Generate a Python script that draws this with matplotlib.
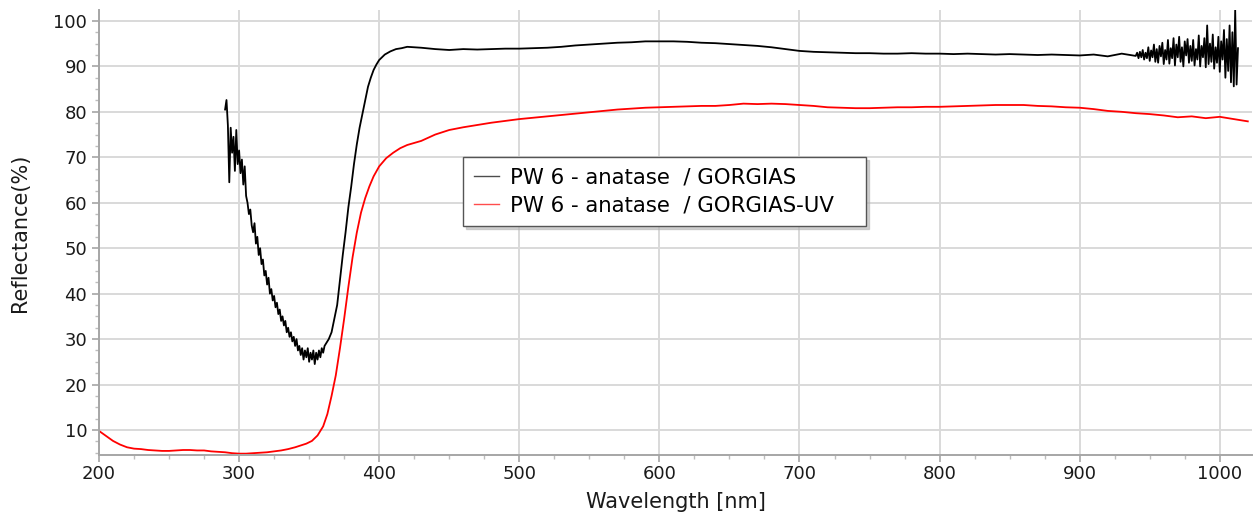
import numpy as np
import matplotlib
matplotlib.use("Agg")
from matplotlib import pyplot as plt
from matplotlib.ticker import MultipleLocator

# black curve (GORGIAS)
black_wl_a = np.arange(290, 362)
black_a = [80.5, 82.6, 77.0, 64.5, 76.5, 71.0, 74.5, 67.0, 76.0, 68.5,
           71.5, 66.5, 69.5, 64.0, 68.0, 61.5, 60.0, 57.5, 58.5, 55.0,
           53.5, 55.5, 51.0, 52.5, 48.5, 50.0, 46.5, 47.5, 44.0, 45.0,
           42.0, 43.5, 40.0, 41.0, 38.5, 39.5, 37.0, 38.0, 35.5, 36.5,
           34.0, 35.0, 33.0, 34.0, 31.5, 32.5, 30.5, 31.5, 29.5, 30.5,
           28.5, 30.0, 27.5, 28.5, 26.5, 28.0, 25.5, 27.5, 26.0, 28.0,
           25.0, 27.0, 25.5, 27.5, 24.5, 27.0, 25.5, 27.5, 26.0, 28.0,
           27.0, 28.5]
black_wl_b = [364, 366, 368, 370, 372, 374, 376, 378, 380, 382, 384, 386,
              388, 390, 392, 394, 396, 398, 400, 404, 408, 412, 416, 420]
black_b = [30.0, 31.5, 34.5, 37.5, 43.0, 48.5, 53.5, 59.0, 63.5, 68.5, 72.8, 76.5,
           79.5, 82.5, 85.5, 87.5, 89.2, 90.4, 91.4, 92.6, 93.3, 93.8, 94.0, 94.3]
black_wl_c = np.arange(430, 950, 10)
black_c = [94.1, 93.8, 93.6, 93.8, 93.7, 93.8, 93.9, 93.9, 94.0, 94.1,
           94.3, 94.6, 94.8, 95.0, 95.2, 95.3, 95.5, 95.5, 95.5, 95.4,
           95.2, 95.1, 94.9, 94.7, 94.5, 94.2, 93.8, 93.4, 93.2, 93.1,
           93.0, 92.9, 92.9, 92.8, 92.8, 92.9, 92.8, 92.8, 92.7, 92.8,
           92.7, 92.6, 92.7, 92.6, 92.5, 92.6, 92.5, 92.4, 92.6, 92.2,
           92.8, 92.3]
black_wl_d = np.arange(941, 1014)
black_d = [93.0, 91.8, 93.2, 92.0, 93.6, 91.5, 93.0, 91.8, 94.2, 91.2,
           93.5, 92.0, 94.8, 91.0, 93.8, 90.8, 94.5, 92.2, 95.2, 90.5,
           93.6, 91.5, 95.8, 90.6, 94.0, 91.8, 96.2, 90.2, 94.8, 92.0,
           96.5, 91.0, 94.2, 90.0, 95.5, 92.4, 96.0, 90.8, 94.5, 91.2,
           95.8, 90.2, 93.8, 91.5, 96.8, 90.0, 94.5, 92.0, 96.2, 89.8,
           99.0, 90.5, 95.0, 91.0, 97.0, 89.5, 94.2, 90.8, 96.5, 88.8,
           95.5, 91.5, 98.0, 87.5, 96.0, 89.0, 99.0, 86.5, 97.5, 85.6,
           102.4, 86.0, 94.0]

# red curve (GORGIAS-UV)
red_wl_a = np.arange(200, 345, 5)
red_a = [9.8, 8.7, 7.6, 6.8, 6.2, 5.9, 5.8, 5.6, 5.5, 5.4,
         5.4, 5.5, 5.6, 5.6, 5.5, 5.5, 5.3, 5.2, 5.1, 4.9,
         4.8, 4.8, 4.9, 5.0, 5.1, 5.3, 5.5, 5.8, 6.2]
red_wl_b = [344, 348, 352, 356, 360, 363, 366, 369, 372, 375, 378,
            381, 384, 387, 390, 393, 396, 400, 405, 410, 415, 420]
red_b = [6.6, 7.0, 7.6, 8.8, 10.8, 13.5, 17.5, 22.0, 28.0, 34.5, 41.5,
         48.0, 53.4, 57.8, 61.0, 63.6, 65.8, 68.0, 69.8, 71.0, 72.0, 72.7]
red_wl_c = np.arange(430, 1030, 10)
red_c = [73.6, 75.0, 76.0, 76.6, 77.1, 77.6, 78.0, 78.4, 78.7, 79.0,
         79.3, 79.6, 79.9, 80.2, 80.5, 80.7, 80.9, 81.0, 81.1, 81.2,
         81.3, 81.3, 81.5, 81.8, 81.7, 81.8, 81.7, 81.5, 81.3, 81.0,
         80.9, 80.8, 80.8, 80.9, 81.0, 81.0, 81.1, 81.1, 81.2, 81.3,
         81.4, 81.5, 81.5, 81.5, 81.3, 81.2, 81.0, 80.9, 80.6, 80.2,
         80.0, 79.7, 79.5, 79.2, 78.8, 79.0, 78.6, 78.9, 78.4, 77.9]

black_wl = np.concatenate([black_wl_a, black_wl_b, black_wl_c, black_wl_d])
black_r = np.concatenate([black_a, black_b, black_c, black_d])
red_wl = np.concatenate([red_wl_a, red_wl_b, red_wl_c])
red_r = np.concatenate([red_a, red_b, red_c])

labels = ["PW 6 - anatase  / GORGIAS", "PW 6 - anatase  / GORGIAS-UV"]

plt.rcParams['font.family'] = ['DejaVu Sans']
fig = plt.figure(figsize=(12.53, 5.18), dpi=100)
ax = fig.add_axes([99 / 1253, 63 / 518, 1153 / 1253, 445 / 518])

ax.plot(black_wl, black_r, color='black', lw=1.3, label=labels[0])
ax.plot(red_wl, red_r, color='#ff0000', lw=1.3, label=labels[1])

ax.set_xlim(200, 1023)
ax.xaxis.set_major_locator(MultipleLocator(100))
ax.xaxis.set_minor_locator(MultipleLocator(25))
ax.yaxis.set_minor_locator(MultipleLocator(2.5))
ax.set_yticks(np.arange(10, 101, 10))
ax.set_ylim(4.5, 102.4)

ax.grid(True, which='major', color='#d9d9d9', lw=1.4)
ax.set_axisbelow(True)
for s in ['top', 'right']:
    ax.spines[s].set_visible(False)
for s in ['left', 'bottom']:
    ax.spines[s].set_color('#a6a6a6')
    ax.spines[s].set_linewidth(1.4)
ax.tick_params(which='major', length=5, color='#a6a6a6', width=1.2,
               labelsize=13, labelcolor='#1a1a1a')
ax.tick_params(axis='x', which='major', pad=2)
ax.tick_params(which='minor', length=3, color='#bdbdbd', width=1)

ax.set_xlabel("Wavelength [nm]", fontsize=15, color='#1a1a1a', labelpad=7)
ax.set_ylabel("Reflectance(%)", fontsize=15, color='#1a1a1a', labelpad=17)

# legend box spans the same width as in the reference
leg = ax.legend(loc='upper left', bbox_to_anchor=(0.3157, 0.517, 0.3495, 0.153),
                mode='expand', fontsize=15.3,
                frameon=True, fancybox=False, borderaxespad=0,
                shadow={'color': '0.7', 'alpha': 0.6}, handlelength=1.2,
                borderpad=0.5, labelspacing=0.38, handletextpad=0.5)
leg.get_frame().set_edgecolor('#555555')
leg.get_frame().set_linewidth(1.0)
for line in leg.get_lines():
    line.set_linewidth(1.0)
    line.set_alpha(0.7)

fig.savefig("out.png", dpi=100)
